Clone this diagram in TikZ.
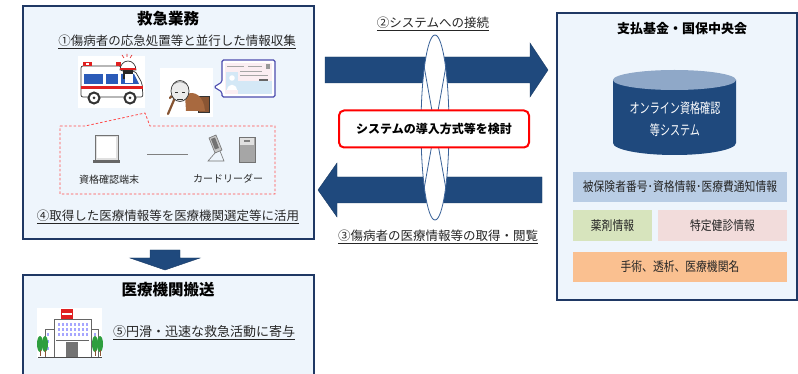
\documentclass[tikz,border=0pt]{standalone}
\usepackage{fontspec}
\usepackage{graphicx}
\setmainfont{Noto Sans CJK JP}
\usetikzlibrary{calc}

\definecolor{navy}{HTML}{1F497D}
\definecolor{panelline}{HTML}{1F3864}
\definecolor{panelfill}{HTML}{EEF5FC}
\definecolor{ink}{HTML}{262626}
\definecolor{ringline}{HTML}{3A6298}
\definecolor{infoblue}{HTML}{B9CDE5}
\definecolor{infogreen}{HTML}{D7E4BD}
\definecolor{infopink}{HTML}{F2DCDB}
\definecolor{infoorange}{HTML}{FAC090}
\definecolor{dbtop}{HTML}{8FA8C8}
\definecolor{ambblue}{HTML}{2B5BB8}
\definecolor{ambred}{HTML}{E02020}
\definecolor{cloth}{HTML}{A8693F}
\definecolor{clothdark}{HTML}{8A5533}
\definecolor{cardpink}{HTML}{FBEEF2}
\definecolor{cardblue}{HTML}{D4E8F6}
\definecolor{tree}{HTML}{2E9E3E}

\newcommand\fs[1]{\fontsize{#1}{#1}\selectfont}
\newcommand\narrow[2]{\scalebox{#1}[1]{#2}}

\tikzset{
  panel/.style={draw=panelline, fill=panelfill, line width=1.8pt},
  bigarrow/.style={fill=navy, draw=navy!80!black, line width=0.4pt},
  paneltitle/.style={font=\fs{15.5}\bfseries, text=black, inner sep=0pt},
  steptext/.style={font=\fs{12.5}, text=ink, inner sep=0pt},
  smalllabel/.style={font=\fs{10}, text=ink, inner sep=0pt},
  infobox/.style={inner sep=0pt, font=\fs{13}, text=ink},
  ring/.style={draw=ringline, line width=0.8pt},
  callout/.style={draw=red!70!white, line width=0.8pt, dash pattern=on 2.5pt off 2pt},
  icon/.style={draw=black!80, line width=0.7pt},
}

\begin{document}
\begin{tikzpicture}[x=1pt,y=-1pt]
\useasboundingbox (0,0) rectangle (798,374);
\clip (0,0) rectangle (798,374);
\fill[white] (0,0) rectangle (798,374);

% ---------- panels ----------
\path[panel] (23,6) rectangle (314,239);
\path[panel] (557,13) rectangle (797,300);
\path[panel] (23,275) rectangle (314,380);

% ---------- emergency work panel ----------
\node[paneltitle] (emtitle) at (168,19) {救急業務};
\node[steptext] (step1) at (177,42) {\underline{①傷病者の応急処置等と並行した情報収集}};
\node[steptext] (step4) at (168,217) {\underline{④取得した医療情報等を医療機関選定等に活用}};

% ambulance
\fill[white] (78,56) rectangle (145,108);
\draw[icon, fill=white, rounded corners=2] (81,97) -- (81,66) -- (121,66) -- (121,71) -- (135,71) -- (142,83) -- (143,97) -- cycle;
\fill[ambred] (83,62) rectangle (92,66);
\fill[white] (86,63) rectangle (89,65);
\fill[ambred] (116,62) rectangle (121,66);
\fill[ambblue] (84,74) rectangle (103,84);
\fill[ambblue] (106,74) rectangle (118,84);
\fill[ambblue] (121,74) -- (134,74) -- (139,84) -- (121,84) -- cycle;
\fill[black!85] (123,70) rectangle (133,79);
\fill[white] (125,74) rectangle (133,83);
\draw[icon, fill=white] (120,70) arc[start angle=180, end angle=360, x radius=8, y radius=9] -- cycle;
\fill[ambred] (120,68) rectangle (136,70);
\draw[ambred, line width=0.6pt] (127,57) -- (127,54) (124,58) -- (122,55) (130,58) -- (132,55);
\fill[ambred] (81,86) rectangle (143,89);
\draw[icon, fill=white, line width=2pt] (94,98) circle (5.5);
\draw[icon, fill=white, line width=2pt] (130,98) circle (5.5);
\fill[black!80] (94,98) circle (1.5) (130,98) circle (1.5);

% elderly patient
\fill[white] (160,68) rectangle (213,117);
\draw[icon, fill=clothdark] (198,96) rectangle (209,112);
\fill[cloth] (185,95) .. controls (195,89) and (204,97) .. (205,111) -- (186,111) -- cycle;
\draw[cloth!80!black, line width=2.2pt, line cap=round] (168,114) -- (174,100) .. controls (175,96) and (171,95) .. (170,98);
\draw[icon, fill=black!8] (180,91) ellipse [x radius=9, y radius=10.5];
\draw[black!80, line width=0.5pt] (175,92) -- (178,92) (182,92) -- (185,92) (177,99) -- (183,99);
\draw[black!60, line width=0.5pt] (174,84) .. controls (178,81) and (182,81) .. (186,84);

% health insurance card in a speech bubble
\draw[draw=blue!55!black!70, fill=white, line width=1.1pt, rounded corners=1.5]
  (222,60) -- (275,60) -- (275,97) -- (222,97) -- (222,92) -- (214,87) -- (222,82) -- cycle;
\fill[cardpink] (225,63) rectangle (272,94);
\fill[cardblue] (238,81) rectangle (272,94);
\fill[cardblue] (226,72) rectangle (238,90);
\fill[white] (232,78) circle (2.8);
\fill[white] (227,90) .. controls (228,83) and (236,83) .. (237,90) -- cycle;
\draw[black!35, line width=0.5pt] (227,66) -- (244,66) (248,66) -- (262,66) (240,71) -- (262,71) (240,75) -- (268,75);
\fill[black!60] (259,79) rectangle (268,81);
\fill[black!40] (266,64) rectangle (270,69);

% callout from the ambulance
\draw[callout] (60,126) -- (85,126) -- (145,113) -- (150,126) -- (275,126) -- (275,194) -- (60,194) -- cycle;

% terminal
\node[inner sep=0pt, minimum width=27pt, minimum height=30pt] (term) at (106.5,149) {};
\draw[draw=black!55, fill=black!12, line width=0.6pt] (95,135) rectangle (118,160);
\fill[white] (97,137) rectangle (116,158);
\fill[black!60] (93,160) rectangle (120,163);
\node[smalllabel] (termlabel) at (109,180) {資格確認端末};

% card readers
\node[inner sep=0pt, minimum width=50pt, minimum height=30pt] (reader) at (231,149) {};
\draw[draw=black!55, fill=black!22, line width=0.6pt] (209,138) -- (216,135) -- (222,150) -- (215,153) -- cycle;
\fill[black!55] (211,139) -- (215,137.5) -- (219,148) -- (215,149.5) -- cycle;
\draw[black!55, line width=0.6pt] (215,153) -- (208,161) -- (224,161) -- (220,151);
\draw[draw=black!55, fill=black!35, line width=0.6pt] (239,137) rectangle (255,162);
\fill[black!12] (240,138) rectangle (254,145);
\fill[black!50] (244,140) rectangle (250,142);
\node[smalllabel] (readerlabel) at (228,179) {カードリーダー};

% link between terminal and reader
\coordinate (linkA) at (147,154);
\coordinate (linkB) at (188,154);
\draw[black!50, line width=0.8pt] (linkA) -- (linkB);

% ---------- arrows between panels ----------
\path[bigarrow] (325,57) -- (530,57) -- (530,43) -- (548,70) -- (530,97) -- (530,83) -- (325,83) -- cycle;
\path[bigarrow] (542,177) -- (337,177) -- (337,163) -- (318,190) -- (337,217) -- (337,203) -- (542,203) -- cycle;

% ring around the two arrows
\draw[ring, fill=white] (435,127.5) ellipse [x radius=14, y radius=92.5];
\draw[ring] (424.3,67.5) .. controls (430,100) and (440,155) .. (445.7,187.5);
\draw[ring] (445.7,67.5) .. controls (440,100) and (430,155) .. (424.3,187.5);

\node[steptext] (step2) at (433,24) {\underline{②システムへの接続}};
\node[steptext] (step3) at (438,237) {\underline{③傷病者の医療情報等の取得・閲覧}};

\node[draw=red, fill=white, line width=2pt, rounded corners=5pt, minimum width=190pt,
      minimum height=37pt, font=\fs{12}\bfseries, text=black, inner sep=0pt] (review) at (434,129)
      {システムの導入方式等を検討};

% ---------- fund / federation panel ----------
\node[paneltitle, font=\fs{13}\bfseries] (fundtitle) at (682,29) {支払基金・国保中央会};

% database cylinder
\fill[navy] (613,80) -- (613,143) arc[start angle=180, end angle=0, x radius=61.5, y radius=12] -- (736,80) -- cycle;
\fill[dbtop] (674.5,80) ellipse [x radius=61.5, y radius=10];
\node[inner sep=0pt, font=\fs{14}, text=white] (db1) at (675,108) {\narrow{0.72}{オンライン資格確認}};
\node[inner sep=0pt, font=\fs{14}, text=white] (db2) at (675,130) {\narrow{0.72}{等システム}};

% stored information
\node[infobox, fill=infoblue, minimum width=214pt, minimum height=30pt] (info1) at (680,187) {\narrow{0.83}{被保険者番号･資格情報･医療費通知情報}};
\node[infobox, fill=infogreen, minimum width=79pt, minimum height=31pt] (info2) at (612.5,225.5) {\narrow{0.83}{薬剤情報}};
\node[infobox, fill=infopink, minimum width=129pt, minimum height=31pt] (info3) at (722.5,225.5) {\narrow{0.83}{特定健診情報}};
\node[infobox, fill=infoorange, minimum width=214pt, minimum height=30pt] (info4) at (680,267) {\narrow{0.83}{手術、透析、医療機関名}};

% ---------- down arrow to transport panel ----------
\path[bigarrow] (150,250) -- (180,250) -- (180,258) -- (200,258) -- (165,270) -- (130,258) -- (150,258) -- cycle;

% ---------- hospital transport panel ----------
\node[paneltitle] (trtitle) at (168,290) {医療機関搬送};
\node[steptext, font=\fs{13}, anchor=west] (step5) at (113,333) {\underline{⑤円滑・迅速な救急活動に寄与}};

% hospital
\fill[white] (37,308) rectangle (102,358);
\fill[ambred] (61,309) rectangle (73,319);
\fill[white] (62,313) rectangle (72,314.5);
\draw[draw=black!60, fill=white, line width=0.6pt] (45,329) rectangle (98,357);
\draw[draw=black!60, fill=white, line width=0.6pt] (54,319) rectangle (91,357);
\foreach \yy in {323,328,333} {
  \foreach \xx in {58,62,...,86} { \fill[blue!35] (\xx,\yy) rectangle +(2,2.5); }
}
\foreach \yy in {333,340,347} {
  \fill[blue!35] (47,\yy) rectangle +(2,3);
  \fill[blue!35] (94,\yy) rectangle +(2,3);
}
\draw[black!60, line width=0.8pt] (56,340) -- (89,340);
\fill[black!55] (66,342) rectangle (78,357);
\fill[tree] (40,344) ellipse [x radius=3, y radius=8];
\fill[tree] (45,344) ellipse [x radius=3, y radius=8];
\fill[tree] (95,344) ellipse [x radius=3, y radius=8];
\fill[tree] (100,344) ellipse [x radius=3, y radius=8];
\draw[clothdark, line width=1pt] (40,350) -- (40,356) (45,350) -- (45,356) (95,350) -- (95,356) (100,350) -- (100,356);
\draw[black!70, line width=0.8pt] (38,357) -- (102,357);

\end{tikzpicture}
\end{document}
